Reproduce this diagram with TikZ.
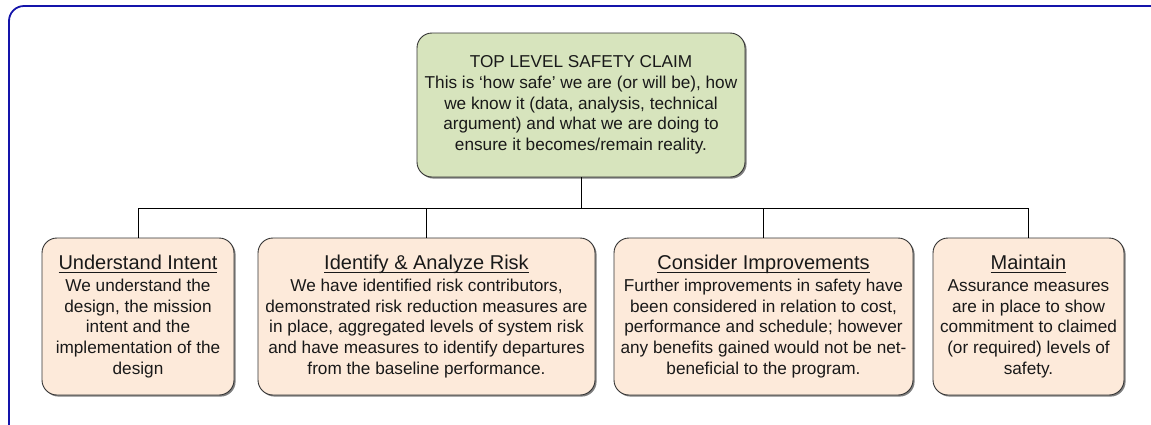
\documentclass[tikz,border=0pt]{standalone}
\usepackage{fontspec}
\setmainfont{Liberation Sans}
\usetikzlibrary{shadows}
\definecolor{frameblue}{RGB}{20,20,170}
\definecolor{claimgreen}{RGB}{215,228,189}
\definecolor{peach}{RGB}{253,234,218}
\definecolor{txt}{RGB}{25,25,25}
\newsavebox{\myulbox}
\newcommand{\myuline}[1]{\sbox{\myulbox}{#1}\rlap{\vrule height -2.3pt depth 3.4pt width \wd\myulbox}\usebox{\myulbox}}
\newcommand{\boxtitle}[1]{{\fontsize{20}{22}\selectfont\myuline{#1}}\\[1pt]}
\begin{document}
\begin{tikzpicture}[x=1pt,y=-1pt,
  basebox/.style={draw=black!80, line width=0.9pt, rounded corners=15pt, align=center,
    inner sep=2pt, text=txt, font=\fontsize{17.2}{20.7}\selectfont,
    drop shadow={shadow xshift=1.6pt, shadow yshift=-1.6pt, fill=black!50, opacity=1}},
  claimbox/.style={basebox, fill=claimgreen, minimum width=328pt, minimum height=144pt},
  subbox/.style={basebox, fill=peach, minimum height=157pt},
  conn/.style={draw=black, line width=0.9pt}]
\useasboundingbox (0,0) rectangle (1151,424);
\draw[frameblue, line width=1.8pt, rounded corners=15pt] (9,6) rectangle (1175,450);

\node[claimbox] (top) at (581,105) {TOP LEVEL SAFETY CLAIM\\
This is ‘how safe’ we are (or will be), how\\
we know it (data, analysis, technical\\
argument) and what we are doing to\\
ensure it becomes/remain reality.};

\node[subbox, minimum width=192pt] (b1) at (138,316.5) {\boxtitle{Understand Intent}
We understand the\\ design, the mission\\ intent and the\\ implementation of the\\ design};
\node[subbox, minimum width=337pt] (b2) at (426.5,316.5) {\boxtitle{Identify \& Analyze Risk}
We have identified risk contributors,\\ demonstrated risk reduction measures are\\ in place, aggregated levels of system risk\\ and have measures to identify departures\\ from the baseline performance.};
\node[subbox, minimum width=299pt] (b3) at (763.5,316.5) {\boxtitle{Consider Improvements}
Further improvements in safety have\\ been considered in relation to cost,\\ performance and schedule; however\\ any benefits gained would not be net-\\ beneficial to the program.};
\node[subbox, minimum width=191pt] (b4) at (1028.5,316.5) {\boxtitle{Maintain}
Assurance measures\\ are in place to show\\ commitment to claimed\\ (or required) levels of\\ safety.};

\coordinate (bus) at (581,208);
\draw[conn] (top.south) -- (top.south |- bus);
\draw[conn] (b1.north) -- (b1.north |- bus) -- (b4.north |- bus) -- (b4.north);
\draw[conn] (b2.north) -- (b2.north |- bus);
\draw[conn] (b3.north) -- (b3.north |- bus);
\end{tikzpicture}
\end{document}
